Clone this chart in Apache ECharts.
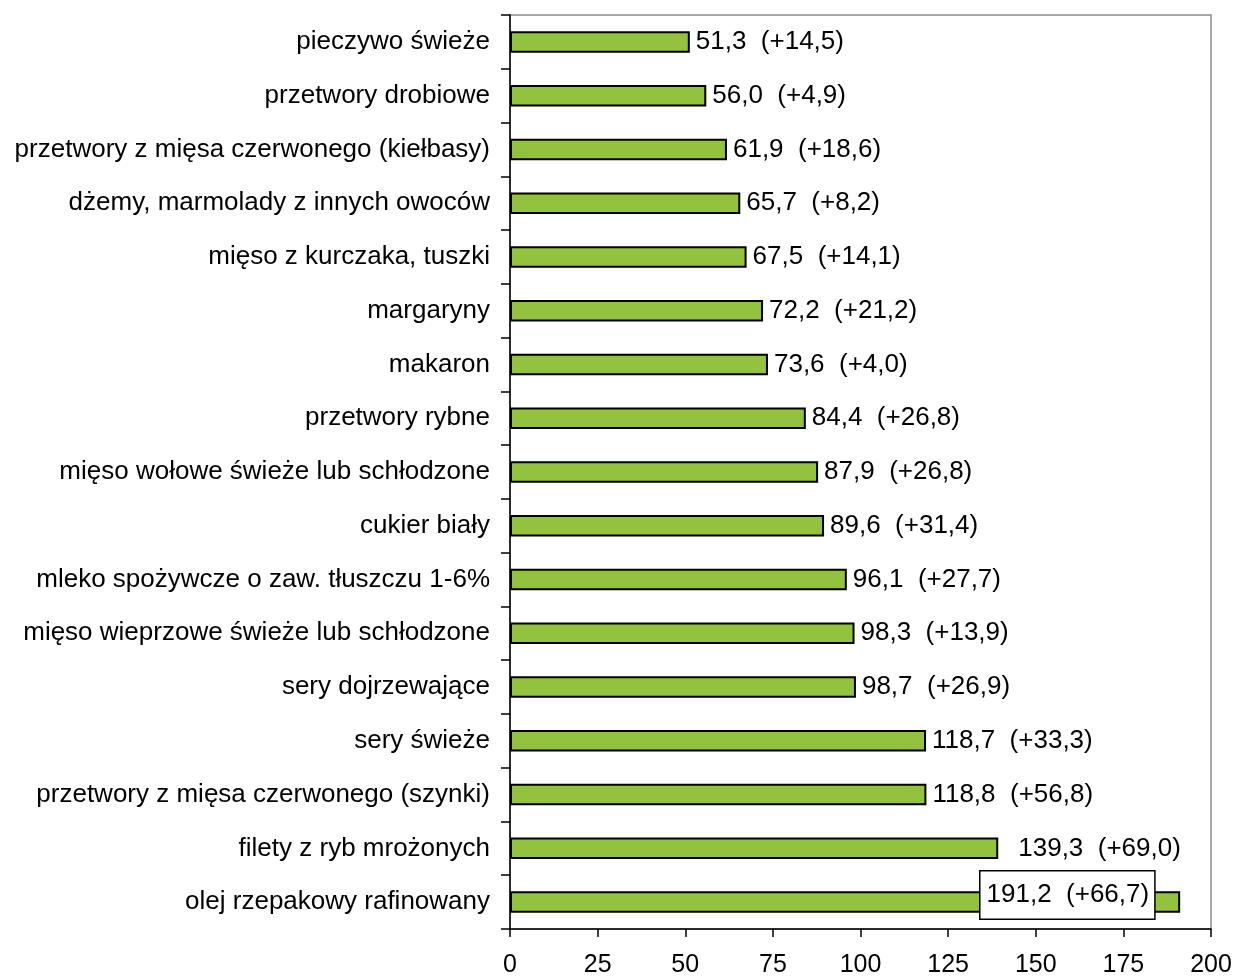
<!DOCTYPE html>
<html>
<head>
<meta charset="utf-8">
<script src="https://cdn.jsdelivr.net/npm/echarts@6/dist/echarts.min.js"></script>
<style>html,body{margin:0;padding:0;background:#fff}#c{width:1235px;height:976px}</style>
</head>
<body>
<div id="c"></div>
<script>
const categories = [
  "pieczywo świeże",
  "przetwory drobiowe",
  "przetwory z mięsa czerwonego (kiełbasy)",
  "dżemy, marmolady z innych owoców",
  "mięso z kurczaka, tuszki",
  "margaryny",
  "makaron",
  "przetwory rybne",
  "mięso wołowe świeże lub schłodzone",
  "cukier biały",
  "mleko spożywcze o zaw. tłuszczu 1-6%",
  "mięso wieprzowe świeże lub schłodzone",
  "sery dojrzewające",
  "sery świeże",
  "przetwory z mięsa czerwonego (szynki)",
  "filety z ryb mrożonych",
  "olej rzepakowy rafinowany"
];
const values = [51.3, 56.0, 61.9, 65.7, 67.5, 72.2, 73.6, 84.4, 87.9, 89.6, 96.1, 98.3, 98.7, 118.7, 118.8, 139.3, 191.2];
const changes = [14.5, 4.9, 18.6, 8.2, 14.1, 21.2, 4.0, 26.8, 26.8, 31.4, 27.7, 13.9, 26.9, 33.3, 56.8, 69.0, 66.7];
const xTicks = [0, 25, 50, 75, 100, 125, 150, 175, 200];

const fmt = v => v.toFixed(1).replace('.', ',');
const FONT = '"Liberation Sans", Arial, sans-serif';
const FS = 26;

const data = values.map((v, i) => {
  const item = { value: v };
  if (i === values.length - 1) {
    item.label = {
      position: 'insideRight', distance: 0, offset: [-26, -7],
      backgroundColor: '#fff', borderColor: '#000', borderWidth: 1.5,
      padding: [11, 5, 10, 6]
    };
  } else if (i === values.length - 2) {
    item.label = { distance: 20 };
  }
  return item;
});

const chart = echarts.init(document.getElementById('c'), null, { renderer: 'canvas' });
chart.setOption({
  animation: false,
  backgroundColor: '#fff',
  grid: { left: 510, right: 24, top: 15, bottom: 47, outerBoundsMode: 'none', containLabel: false,
    show: true, borderColor: '#8c8c8c', borderWidth: 1.5, backgroundColor: 'transparent' },
  xAxis: {
    type: 'value', min: 0, max: 200, interval: 25,
    axisLine: { show: true, lineStyle: { color: '#000', width: 1.5 } },
    axisTick: { show: true, length: 8, lineStyle: { color: '#000', width: 1.5 } },
    splitLine: { show: false },
    axisLabel: { color: '#000', fontSize: 25, fontFamily: FONT, margin: 24,
      formatter: v => xTicks.includes(v) ? String(v) : '' }
  },
  yAxis: {
    type: 'category', data: categories, inverse: true,
    axisLine: { show: true, lineStyle: { color: '#000', width: 1.5 } },
    axisTick: { show: true, length: 9, alignWithLabel: false, lineStyle: { color: '#000', width: 1.5 } },
    axisLabel: { color: '#000', fontSize: FS, fontFamily: FONT, margin: 20 }
  },
  series: [{
    type: 'bar', data: data, barCategoryGap: '60%',
    itemStyle: { color: '#93c23e', borderColor: '#000', borderWidth: 2 },
    label: {
      show: true, position: 'right', distance: 6, color: '#000', fontSize: FS, fontFamily: FONT,
      formatter: p => fmt(values[p.dataIndex]) + '  (+' + fmt(changes[p.dataIndex]) + ')'
    }
  }]
});
</script>
</body>
</html>
